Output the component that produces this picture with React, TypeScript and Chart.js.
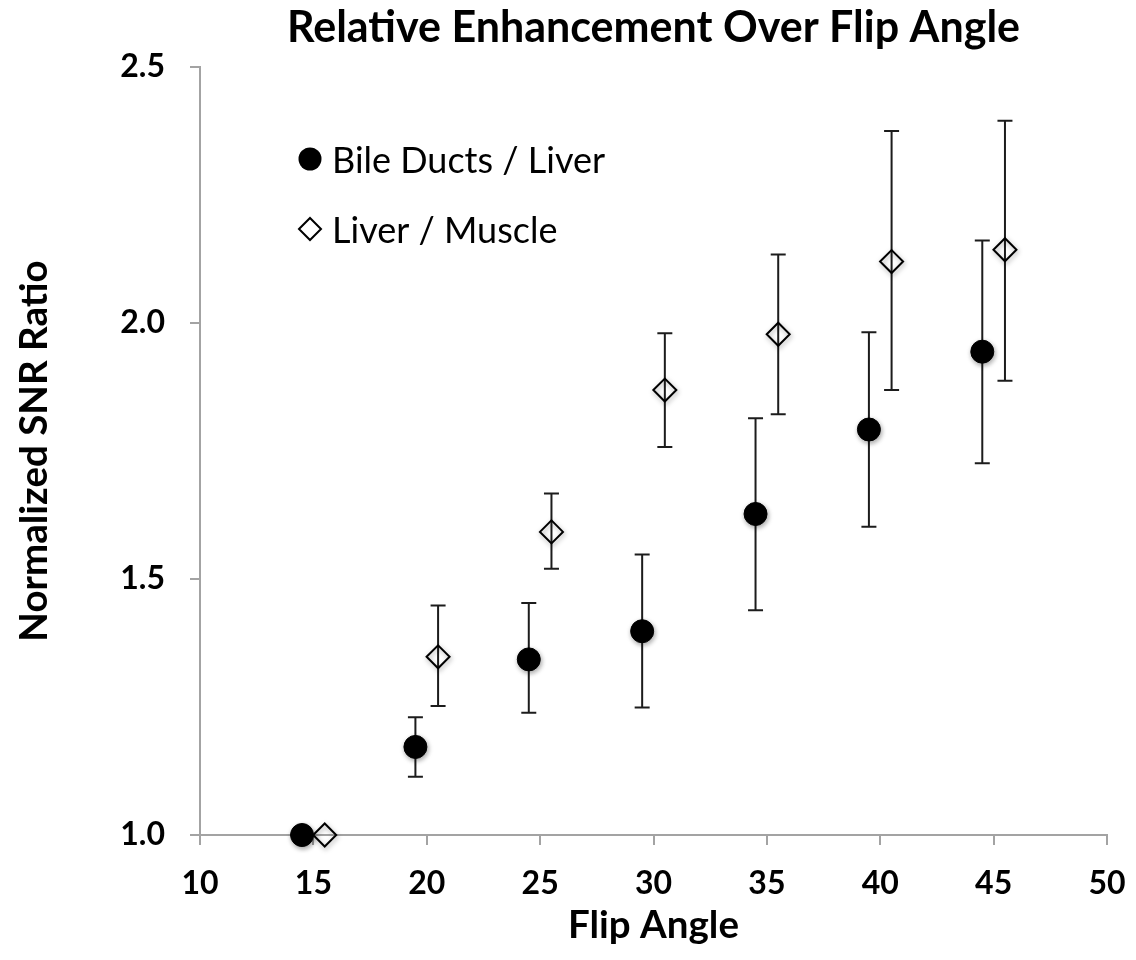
import React, { useEffect, useRef } from 'react';
import { Chart, registerables } from 'chart.js';

Chart.register(...registerables);

const chartTitle = 'Relative Enhancement Over Flip Angle';
const xAxisTitle = 'Flip Angle';
const yAxisTitle = 'Normalized SNR Ratio';
const seriesNames = ['Bile Ducts / Liver', 'Liver / Muscle'];

const xTickValues = [10, 15, 20, 25, 30, 35, 40, 45, 50];
const yTickValues = [1.0, 1.5, 2.0, 2.5];

const bileAngles = [14.5, 19.5, 24.5, 29.5, 34.5, 39.5, 44.5];
const bileMean = [1.0, 1.172, 1.343, 1.398, 1.627, 1.792, 1.944];
const bileLow = [1.0, 1.114, 1.239, 1.249, 1.439, 1.602, 1.726];
const bileHigh = [1.0, 1.23, 1.453, 1.548, 1.814, 1.982, 2.161];

const liverAngles = [15.5, 20.5, 25.5, 30.5, 35.5, 40.5, 45.5];
const liverMean = [1.0, 1.348, 1.592, 1.869, 1.978, 2.12, 2.143];
const liverLow = [1.0, 1.252, 1.52, 1.758, 1.822, 1.869, 1.887];
const liverHigh = [1.0, 1.448, 1.667, 1.98, 2.134, 2.375, 2.395];

const FONT = 'Lato, "Open Sans", sans-serif';
const AXIS_COLOR = '#a3a3a3';
const BAR_COLOR = '#1c1c1c';

const errorBarPlugin = {
  id: 'errorBars',
  beforeDatasetsDraw(chart: any) {
    const { ctx, scales } = chart;
    const xs = scales.x;
    const ys = scales.y;
    ctx.save();
    ctx.strokeStyle = BAR_COLOR;
    ctx.lineWidth = 2;
    chart.data.datasets.forEach((ds: any) => {
      ds.data.forEach((p: any, i: number) => {
        const px = xs.getPixelForValue(p.x);
        const yl = ys.getPixelForValue(ds.errLow[i]);
        const yh = ys.getPixelForValue(ds.errHigh[i]);
        if (Math.abs(yl - yh) < 1) return;
        ctx.beginPath();
        ctx.moveTo(px, yl);
        ctx.lineTo(px, yh);
        ctx.moveTo(px - 7.5, yl);
        ctx.lineTo(px + 7.5, yl);
        ctx.moveTo(px - 7.5, yh);
        ctx.lineTo(px + 7.5, yh);
        ctx.stroke();
      });
    });
    ctx.restore();
    ctx.save();
    ctx.shadowColor = 'rgba(0,0,0,0.35)';
    ctx.shadowBlur = 5;
    ctx.shadowOffsetX = 1;
    ctx.shadowOffsetY = 2;
  },
  afterDatasetsDraw(chart: any) {
    chart.ctx.restore();
  },
};

const insideLegendPlugin = {
  id: 'insideLegend',
  afterDraw(chart: any) {
    const { ctx, chartArea } = chart;
    const mx = chartArea.left + 110;
    const rows = [chartArea.top + 92, chartArea.top + 162];
    ctx.save();
    chart.data.datasets.forEach((ds: any, i: number) => {
      const my = rows[i];
      ctx.beginPath();
      if (ds.pointStyle === 'circle') {
        ctx.arc(mx, my, 11.5, 0, Math.PI * 2);
        ctx.fillStyle = '#000';
        ctx.fill();
      } else {
        const r = 11;
        ctx.moveTo(mx - r, my);
        ctx.lineTo(mx, my - r);
        ctx.lineTo(mx + r, my);
        ctx.lineTo(mx, my + r);
        ctx.closePath();
        ctx.fillStyle = '#fff';
        ctx.fill();
        ctx.lineWidth = 2;
        ctx.strokeStyle = '#000';
        ctx.stroke();
      }
      ctx.fillStyle = '#000';
      ctx.font = `36px ${FONT}`;
      ctx.textBaseline = 'middle';
      ctx.textAlign = 'left';
      ctx.fillText(ds.label, mx + 22, my + 2);
    });
    ctx.restore();
  },
};

export default function App() {
  const canvasRef = useRef<HTMLCanvasElement | null>(null);

  useEffect(() => {
    document.body.style.margin = '0';
    const canvas = canvasRef.current;
    if (!canvas) return;
    const chart = new Chart(canvas, {
      type: 'scatter',
      data: {
        datasets: [
          {
            label: seriesNames[0],
            data: bileAngles.map((a, i) => ({ x: a, y: bileMean[i] })),
            errLow: bileLow,
            errHigh: bileHigh,
            pointStyle: 'circle',
            pointRadius: 11.5,
            pointHoverRadius: 11.5,
            backgroundColor: '#000',
            borderColor: '#000',
            borderWidth: 1,
            showLine: false,
            clip: false,
          } as any,
          {
            label: seriesNames[1],
            data: liverAngles.map((a, i) => ({ x: a, y: liverMean[i] })),
            errLow: liverLow,
            errHigh: liverHigh,
            pointStyle: 'rectRot',
            pointRadius: 11.5,
            pointHoverRadius: 11.5,
            backgroundColor: 'rgba(255,255,255,0)',
            borderColor: '#000',
            borderWidth: 2,
            showLine: false,
            clip: false,
          } as any,
        ],
      },
      options: {
        responsive: false,
        animation: false,
        devicePixelRatio: 1,
        layout: { padding: { top: 0, right: 29, bottom: 0, left: 0 } },
        plugins: {
          legend: { display: false },
          tooltip: { enabled: false },
          title: {
            display: true,
            fullSize: false,
            text: chartTitle,
            color: '#000',
            font: { family: FONT, size: 43, weight: 'bold' },
            padding: { top: 2, bottom: 13.4 },
          },
        },
        scales: {
          x: {
            type: 'linear',
            min: 10,
            max: 50,
            afterBuildTicks: (s: any) => {
              s.ticks = xTickValues.map((v) => ({ value: v }));
            },
            afterFit: (s: any) => {
              s.height = 125;
              s.paddingLeft = 0;
              s.paddingRight = 0;
            },
            grid: {
              display: true,
              drawOnChartArea: false,
              drawTicks: true,
              tickLength: 10,
              color: AXIS_COLOR,
              lineWidth: 2,
            },
            border: { display: true, color: AXIS_COLOR, width: 2 },
            ticks: {
              padding: 19,
              color: '#000',
              font: { family: FONT, size: 32, weight: 'bold' },
              callback: (v: any) => String(v),
            },
            title: {
              display: true,
              text: xAxisTitle,
              color: '#000',
              font: { family: FONT, size: 38.5, weight: 'bold' },
              padding: { top: 0, bottom: 11 },
            },
          },
          y: {
            type: 'linear',
            min: 1,
            max: 2.5,
            afterBuildTicks: (s: any) => {
              s.ticks = yTickValues.map((v) => ({ value: v }));
            },
            afterFit: (s: any) => {
              s.width = 200;
              s.paddingTop = 0;
              s.paddingBottom = 0;
            },
            grid: {
              display: true,
              drawOnChartArea: false,
              drawTicks: true,
              tickLength: 10,
              color: AXIS_COLOR,
              lineWidth: 2,
            },
            border: { display: true, color: AXIS_COLOR, width: 2 },
            ticks: {
              padding: 25,
              color: '#000',
              font: { family: FONT, size: 32, weight: 'bold' },
              callback: (v: any) => Number(v).toFixed(1),
            },
            title: {
              display: true,
              text: yAxisTitle,
              color: '#000',
              font: { family: FONT, size: 38.5, weight: 'bold' },
              padding: { top: 11, bottom: 0 },
            },
          },
        },
      },
      plugins: [errorBarPlugin, insideLegendPlugin],
    } as any);
    return () => {
      chart.destroy();
    };
  }, []);

  return (
    <div style={{ position: 'absolute', left: 0, top: 0, width: 1136, height: 960, background: '#fff' }}>
      <canvas ref={canvasRef} width={1136} height={960} style={{ width: 1136, height: 960, display: 'block' }} />
    </div>
  );
}
